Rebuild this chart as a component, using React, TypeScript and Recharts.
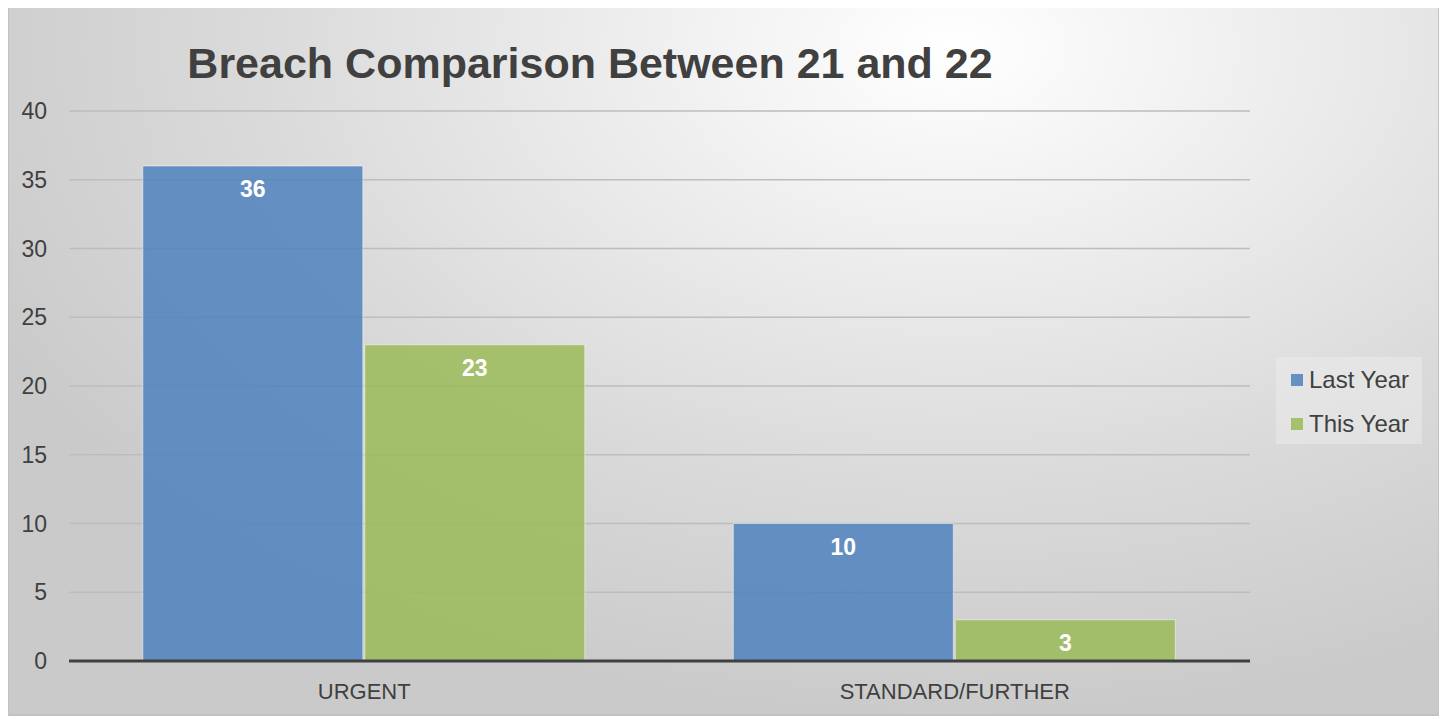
import { BarChart, Bar, XAxis, YAxis, CartesianGrid, LabelList } from 'recharts';

const categories = ['URGENT', 'STANDARD/FURTHER'];
const lastYear = [36, 10];
const thisYear = [23, 3];
const yTicks = [0, 5, 10, 15, 20, 25, 30, 35, 40];

const data = categories.map((name, i) => ({ name, lastYear: lastYear[i], thisYear: thisYear[i] }));

const FONT = '"Liberation Sans", Arial, sans-serif';
const BLUE = '#4f81bd';
const GREEN = '#9bbb59';

const series = [
  { key: 'lastYear', label: 'Last Year', color: BLUE },
  { key: 'thisYear', label: 'This Year', color: GREEN },
];

// legend drawn as a plain box so it doesn't eat into the plot area
function LegendBox() {
  return (
    <div
      style={{
        position: 'absolute',
        left: 1267,
        top: 352,
        width: 146,
        height: 87,
        background: 'rgba(235,235,235,0.55)',
        boxSizing: 'border-box',
        paddingTop: 1,
        paddingLeft: 15,
        fontFamily: FONT,
      }}
    >
      {series.map((s) => (
        <div key={s.key} style={{ display: 'flex', alignItems: 'center', height: 44 }}>
          <span style={{ width: 12, height: 12, background: s.color, opacity: 0.85, marginRight: 6 }} />
          <span style={{ fontSize: 24, color: '#404040' }}>{s.label}</span>
        </div>
      ))}
    </div>
  );
}

export default function App() {
  return (
    <div
      style={{
        position: 'relative',
        top: -5,
        left: -1,
        width: 1433,
        height: 713,
        boxSizing: 'border-box',
        border: '2px solid #c2c2c2',
        background:
          'radial-gradient(ellipse 75% 95% at 66% 6%, #ffffff 0%, #eeeeee 30%, #dadada 65%, #cacaca 100%)',
        fontFamily: FONT,
      }}
    >
      <div
        style={{
          position: 'absolute',
          left: 0,
          width: 1162,
          top: 34,
          textAlign: 'center',
          fontSize: 43,
          fontWeight: 'bold',
          color: '#404040',
        }}
      >
        Breach Comparison Between 21 and 22
      </div>
      <LegendBox />
      <BarChart
        width={1429}
        height={709}
        data={data}
        margin={{ top: 106, right: 188, left: 10, bottom: 11 }}
        barCategoryGap="12.5%"
        barGap={2}
      >
        <CartesianGrid vertical={false} stroke="#bdbdbd" strokeWidth={1.5} />
        <XAxis
          dataKey="name"
          axisLine={{ stroke: '#404040', strokeWidth: 3 }}
          tickLine={false}
          tickMargin={16}
          height={42}
          tick={{ fill: '#404040', fontSize: 22, fontFamily: FONT }}
        />
        <YAxis
          domain={[0, 40]}
          ticks={yTicks}
          width={50}
          axisLine={false}
          tickLine={false}
          tickMargin={16}
          tick={{ fill: '#404040', fontSize: 23, fontFamily: FONT }}
        />
        {series.map((s) => (
          <Bar
            key={s.key}
            dataKey={s.key}
            name={s.label}
            fill={s.color}
            fillOpacity={0.85}
            stroke="#ffffff"
            strokeOpacity={0.5}
            isAnimationActive={false}
          >
            <LabelList
              dataKey={s.key}
              position="insideTop"
              offset={15}
              fill="#ffffff"
              fontSize={23}
              fontWeight="bold"
              fontFamily={FONT}
            />
          </Bar>
        ))}
      </BarChart>
    </div>
  );
}
